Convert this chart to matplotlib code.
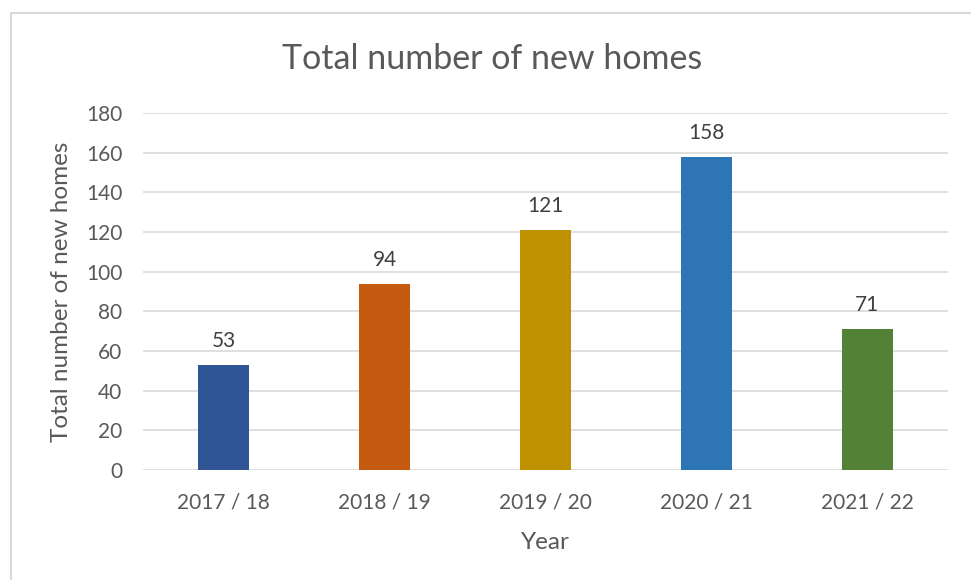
import matplotlib.pyplot as plt
from matplotlib.patches import Rectangle

years = ["2017 / 18", "2018 / 19", "2019 / 20", "2020 / 21", "2021 / 22"]
homes = [53, 94, 121, 158, 71]
colors = ["#2F5597", "#C55A11", "#BF9000", "#2E75B6", "#538135"]

plt.rcParams['font.family'] = ['Lato', 'DejaVu Sans']
txt = '#595959'

fig = plt.figure(figsize=(9.71, 5.80), dpi=100)
ax = fig.add_axes([0.1473, 0.1897, 0.829, 0.6155])

# chart area border
fig.patches.append(Rectangle((11 / 971, -0.1), 1.1, 0.1 + 1 - 13 / 580, transform=fig.transFigure,
                             fill=False, edgecolor='#D9D9D9', linewidth=1.5))

x = range(len(years))
bars = ax.bar(x, homes, width=0.32, color=colors, zorder=3)
for b, v in zip(bars, homes):
    ax.text(b.get_x() + b.get_width() / 2, v + 7, str(v), ha='center', va='bottom',
            fontsize=15, color='#404040')

ax.set_xlim(-0.5, len(years) - 0.5)
ax.set_ylim(0, 180)
ax.set_yticks(range(0, 181, 20))
ax.set_xticks(list(x))
ax.set_xticklabels(years)
ax.yaxis.grid(True, color='#D9D9D9', linewidth=1.2, zorder=0)
ax.tick_params(length=0, labelsize=15, colors=txt, pad=15)
ax.tick_params(axis='x', pad=16)
for s in ax.spines.values():
    s.set_visible(False)

ax.set_ylabel("Total number of new homes", fontsize=17.5, color=txt, labelpad=10)
ax.set_xlabel("Year", fontsize=17.5, color=txt, labelpad=14)
fig.text(0.507, 0.899, "Total number of new homes", ha='center', va='center', fontsize=24.5, color=txt)

fig.savefig('out.png', dpi=100)
